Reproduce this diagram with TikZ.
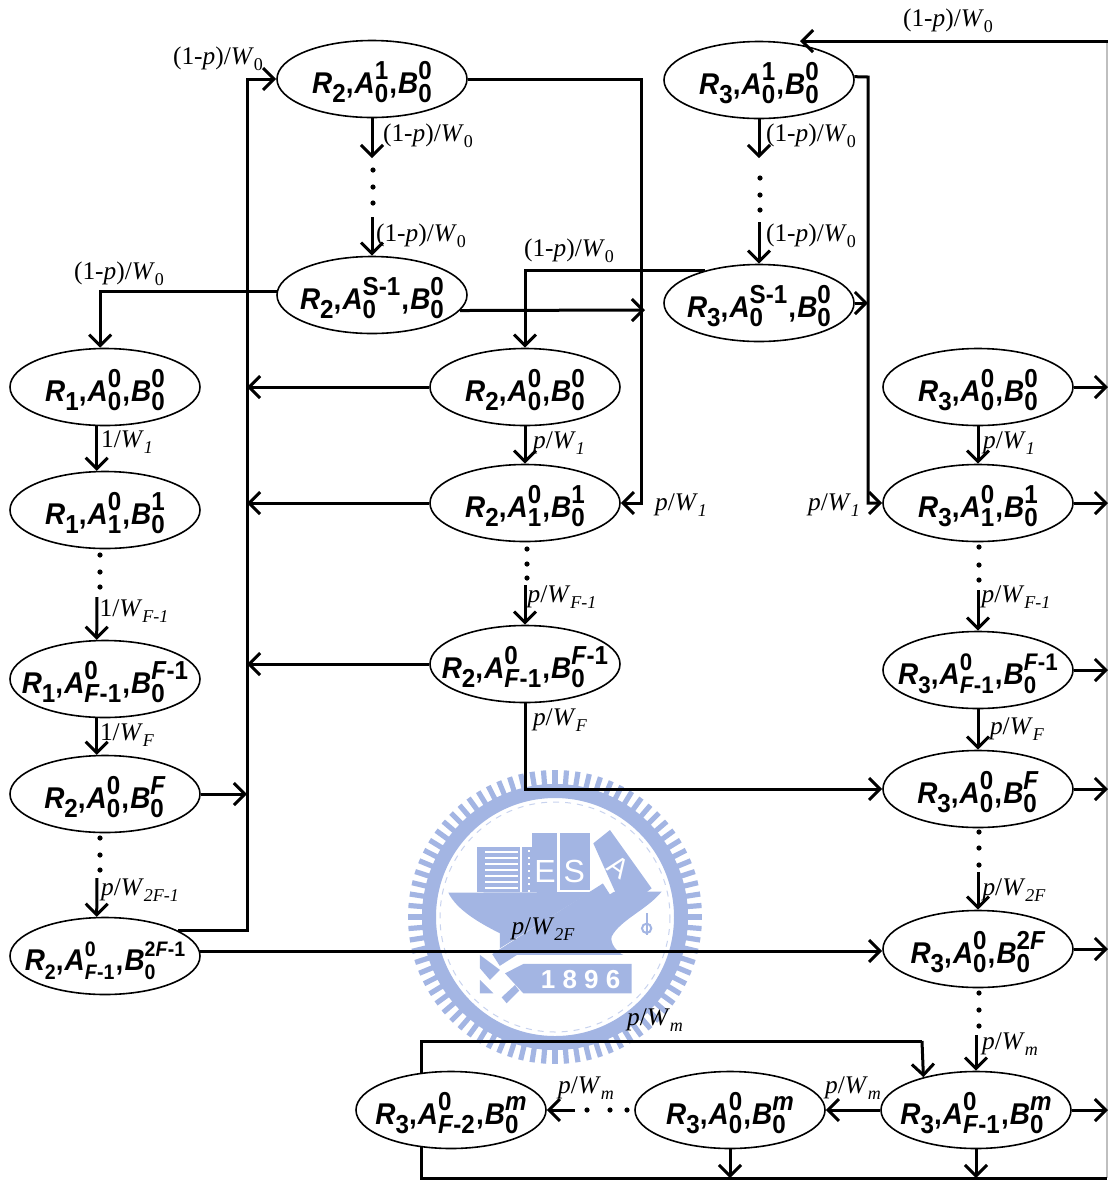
\documentclass[tikz,border=0pt]{standalone}
\usepackage{fontspec}
\setmainfont{Liberation Serif}
\setsansfont{Liberation Sans}
\usepackage{xcolor}
\usepackage{tikz}
\usetikzlibrary{arrows.meta,shapes.geometric}
\definecolor{SEALblue}{HTML}{A3B5E3}
\newcommand{\stidx}[3]{\ooalign{\raisebox{.46em}{\fontsize{#1}{#1}\selectfont\upshape #2}\hfil\cr\raisebox{-.32em}{\fontsize{#1}{#1}\selectfont\upshape #3}\hfil\cr}}
\newcommand{\stlab}[6][13]{\smash{\raisebox{-7pt}{\makebox[0pt][c]{\scalebox{.93}[1]{\textit{R}\raisebox{-.3em}{\fontsize{#1}{#1}\selectfont\upshape #2},\hspace{.04em}\textit{A}\stidx{#1}{#3}{#4}\hspace{.04em},\hspace{.04em}\textit{B}\stidx{#1}{#5}{#6}}}}}}
\newcommand{\rt}[2]{#1/\textit{W}\raisebox{-.25em}{\fontsize{9}{9}\selectfont #2}}
\newcommand{\lp}{(1-\textit{p})}
\newcommand{\Fm}{\textit{F}-1}
\tikzset{
  stnode/.style={ellipse, draw, line width=0.8pt, fill=white, minimum width=95pt, minimum height=38.5pt, inner sep=0pt, font=\fontsize{15}{15}\selectfont\sffamily\bfseries},
  ratelab/.style={font=\fontsize{12.7}{14}\selectfont, inner sep=0pt},
  wire/.style={line width=1.5pt},
  flow/.style={wire, -{Straight Barb[length=5.5pt,width=11pt]}},
  mark1896/.style={font=\sffamily\bfseries, text=white, inner sep=0pt}
}
\begin{document}
\begin{tikzpicture}[x=0.5pt,y=-0.5pt]
\useasboundingbox (0,0) rectangle (1108,1180);
% logo behind the diagram
\begin{scope}[shift={(555,917)}]
\foreach \a in {0,4.5,...,355.5}{
  \draw[SEALblue, line width=2.6pt] (\a:130) -- (\a:147);
}
\draw[SEALblue, line width=7pt] (0,0) circle (126);
\draw[SEALblue!60, line width=0.5pt, dashed] (0,0) circle (115);
\end{scope}
\begin{scope}[shift={(390,760)},scale=0.3333]
\fill[SEALblue] (262,262) rectangle (390,395);
\fill[SEALblue] (395,262) rectangle (425,395);
\fill[SEALblue] (425,220) rectangle (500,395);
\fill[SEALblue] (510,220) rectangle (600,390);
\fill[SEALblue] (610,250) -- (660,210) -- (785,385) -- (700,450) -- cycle;
\foreach \y in {272,290,...,390}{
  \fill[white] (285,\y) rectangle (385,\y+7);
}
\foreach \y in {270,290,...,390}{
  \fill[white] (415,\y) rectangle (421,\y+6);
}
\fill[SEALblue] (175,398) -- (815,395) .. controls (770,450) and (690,480) .. (665,530) .. controls (660,550) and (680,575) .. (700,585) -- (330,585) -- (330,520) .. controls (270,490) and (200,450) .. (175,398) -- cycle;
\draw[white, line width=6pt] (300,605) -- (662,380);
\draw[SEALblue, line width=7pt] (318,600) -- (650,388);
\fill[SEALblue] (270,585) -- (330,630) -- (300,660) -- (270,625) -- cycle;
\fill[SEALblue] (270,660) -- (310,700) -- (270,700) -- cycle;
\fill[SEALblue] (335,712) -- (375,675) -- (388,692) -- (350,730) -- cycle;
\fill[SEALblue] (345,640) -- (400,612) -- (725,612) -- (725,700) -- (400,700) -- cycle;
\draw[SEALblue, line width=1pt] (770,460) -- (770,525);
\draw[SEALblue, line width=1pt] (770,505) circle (14);
\node[mark1896, font=\fontsize{16}{16}\selectfont\sffamily] (markE) at (465,335) {E};
\node[mark1896, font=\fontsize{16}{16}\selectfont\sffamily] (markS) at (553,335) {S};
\node[mark1896, font=\fontsize{14}{14}\selectfont\sffamily, rotate=-35] (markA) at (685,320) {A};
\node[mark1896, font=\fontsize{13}{13}\selectfont\sffamily\bfseries] (mark1896) at (572,658) {1 8 9 6};
\end{scope}
% states
\foreach \nm/\x/\y/\lab in {
  a1/372/79/{\stlab{2}{1}{0}{0}{0}},
  a2/372/295/{\stlab{2}{S-1}{0}{0}{0}},
  b1/759/80/{\stlab{3}{1}{0}{0}{0}},
  b2/759/303/{\stlab{3}{S-1}{0}{0}{0}},
  c1/105/387/{\stlab{1}{0}{0}{0}{0}},
  c2/105/510/{\stlab{1}{0}{1}{1}{0}},
  c3/105/679/{\stlab{1}{0}{\Fm}{\Fm}{0}},
  c4/105/794/{\stlab{2}{0}{0}{\textit{F}}{0}},
  c5/105/956/{\stlab[10.5]{2}{0}{\Fm}{2\textit{F}-1}{0}},
  d1/525/387/{\stlab{2}{0}{0}{0}{0}},
  d2/525/503/{\stlab{2}{0}{1}{1}{0}},
  d3/525/664/{\stlab{2}{0}{\Fm}{\Fm}{0}},
  e1/978/387/{\stlab{3}{0}{0}{0}{0}},
  e2/978/503/{\stlab{3}{0}{1}{1}{0}},
  e3/978/670/{\stlab[12]{3}{0}{\Fm}{\Fm}{0}},
  e4/978/789/{\stlab{3}{0}{0}{\textit{F}}{0}},
  e5/978/949/{\stlab{3}{0}{0}{2\textit{F}}{0}},
  e6/976/1110/{\stlab{3}{0}{\Fm}{\textit{m}}{0}},
  f1/730/1110/{\stlab{3}{0}{0}{\textit{m}}{0}},
  g1/451/1110/{\stlab{3}{0}{\textit{F}-2}{\textit{m}}{0}}}{
  \node[stnode] (\nm) at (\x,\y) {\lab};
}
% free ends
\coordinate (busT) at (247,79);
\coordinate (riserA) at (641,79);
\coordinate (riserB) at (868,77);
\coordinate (rightT) at (1108,41);
\coordinate (rightB) at (1107,1178);
\coordinate (rightC) at (1107,41);
\coordinate (b1top) at (800,41);
\coordinate (a1out) at (372,158);
\coordinate (a2in) at (372,217);
\coordinate (a2end) at (645,310);
\coordinate (b1out) at (759,158);
\coordinate (b2in) at (759,222);
\coordinate (c3in) at (97,597);
\coordinate (c5in) at (97,878);
\coordinate (d3in) at (525,585);
\coordinate (e3in) at (978,590);
\coordinate (e5in) at (978,872);
\coordinate (e6in) at (976,1035);
\coordinate (f1out) at (575,1110);
\coordinate (loopT) at (922,1041);
% connectors
\draw[flow] (c5.19) -| (busT) -- (a1.west);
\foreach \nm in {d1,d2,d3}{
  \draw[flow] (\nm.west) -- (\nm.west -| busT);
}
\draw[flow] (c4.east) -- (c4.east -| busT);
\draw[flow] (a1.east) -- (riserA) |- (d2.east);
\draw[flow] (a1.south) -- (a1out);
\draw[flow] (a2in) -- (a2.north);
\draw[flow] (a2.178) -| (c1.97);
\draw[flow] (a2.-10) -- (a2end);
\draw[flow] (b1.south) -- (b1out);
\draw[flow] (b2in) -- (b2.north);
\draw[flow] (b2.149) -| (d1.north);
\draw[flow] (b2.east) -- (b2.east -| riserB);
\draw[flow] (b1.2) -- (riserB) |- (e2.west);
\draw[black!25, line width=0.7pt] (rightB) -- (rightC);
\draw[flow] (rightT) -- (b1top);
\draw[flow] (c1.-102) -- (c2.102);
\draw[flow] (c3in) -- (c3.102);
\draw[flow] (c3.-102) -- (c4.102);
\draw[flow] (c5in) -- (c5.102);
\draw[flow] (c5.3) -- (e5.west |- c5.3);
\draw[flow] (d1.south) -- (d2.north);
\draw[flow] (d3in) -- (d3.north);
\draw[flow] (d3.south) |- (e4.west);
\draw[flow] (e1.south) -- (e2.north);
\draw[flow] (e3in) -- (e3.north);
\draw[flow] (e3.south) -- (e4.north);
\draw[flow] (e5in) -- (e5.north);
\draw[flow] (e6in) -- (e6.north);
\foreach \nm in {e1,e2,e3,e4,e5,e6}{
  \draw[flow] (\nm.east) -- (\nm.east -| rightT);
}
\draw[flow] (e6.west) -- (f1.east);
\draw[flow] (f1out) -- (g1.east);
\draw[wire] (g1.128) |- (loopT);
\draw[flow] (loopT) -- (e6.148);
\draw[wire] (g1.-128) |- (rightB);
\draw[flow] (f1.south) -- (f1.south |- rightB);
\draw[flow] (e6.south) -- (e6.south |- rightB);
% dots
\foreach \x/\y in {373/170,373/187,373/203,760/178,760/195,760/210,100/555,100/572,100/587,100/838,100/855,100/870,527/549,527/564,527/578,979/547,979/565,979/580,979/832,979/848,979/865,979/993,979/1010,979/1026,587/1110,610/1110,627/1110}{
  \fill (\x,\y) circle (2.6);
}
% rates
\foreach \x/\y/\lab [count=\i] in {
  948/21/{\rt{\lp}{0}},
  218/59/{\rt{\lp}{0}},
  428/136/{\rt{\lp}{0}},
  811/136/{\rt{\lp}{0}},
  421/236/{\rt{\lp}{0}},
  811/236/{\rt{\lp}{0}},
  569/251/{\rt{\lp}{0}},
  119/274/{\rt{\lp}{0}},
  127/442/{\rt{1}{\textit{1}}},
  134/611/{\rt{1}{\textit{F-1}}},
  127/735/{\rt{1}{\textit{F}}},
  559/443/{\rt{\textit{p}}{\textit{1}}},
  681/505/{\rt{\textit{p}}{\textit{1}}},
  834/505/{\rt{\textit{p}}{\textit{1}}},
  1009/443/{\rt{\textit{p}}{\textit{1}}},
  562/597/{\rt{\textit{p}}{\textit{F-1}}},
  1016/597/{\rt{\textit{p}}{\textit{F-1}}},
  560/720/{\rt{\textit{p}}{\textit{F}}},
  1017/729/{\rt{\textit{p}}{\textit{F}}},
  140/890/{\rt{\textit{p}}{\textit{2F-1}}},
  1014/890/{\rt{\textit{p}}{\textit{2F}}},
  543/929/{\rt{\textit{p}}{\textit{2F}}},
  655/1020/{\rt{\textit{p}}{\textit{m}}},
  1010/1044/{\rt{\textit{p}}{\textit{m}}},
  586/1088/{\rt{\textit{p}}{\textit{m}}},
  853/1088/{\rt{\textit{p}}{\textit{m}}}}{
  \node[ratelab] (rate\i) at (\x,\y) {\lab};
}
\end{tikzpicture}
\end{document}
